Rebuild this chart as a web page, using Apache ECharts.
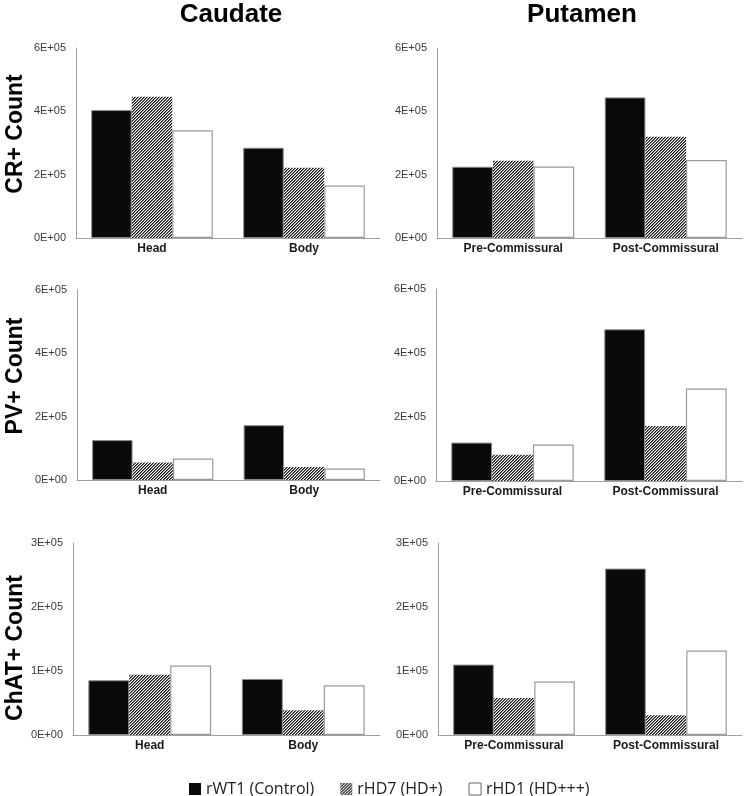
<!DOCTYPE html>
<html>
<head>
<meta charset="utf-8">
<script src="https://cdn.jsdelivr.net/npm/echarts@6/dist/echarts.min.js"></script>
<style>
html,body{margin:0;padding:0;background:#fff;}
#c{width:747px;height:796px;}
</style>
</head>
<body>
<div id="c"></div>
<script>
// ---- Data ----
const seriesNames = ['rWT1 (Control)', 'rHD7 (HD+)', 'rHD1 (HD+++)'];
const caudateCats = ['Head', 'Body'];
const putamenCats = ['Pre-Commissural', 'Post-Commissural'];
const columnTitles = ['Caudate', 'Putamen'];
const rowTitles = ['CR+ Count', 'PV+ Count', 'ChAT+ Count'];

// CR+ counts
const crCaudateWT = [404000, 285000];
const crCaudateHD7 = [446000, 222000];
const crCaudateHD1 = [340000, 166000];
const crPutamenWT = [225000, 444000];
const crPutamenHD7 = [244000, 320000];
const crPutamenHD1 = [226000, 246000];
// PV+ counts
const pvCaudateWT = [126000, 173000];
const pvCaudateHD7 = [55000, 41000];
const pvCaudateHD1 = [68000, 36000];
const pvPutamenWT = [120000, 474000];
const pvPutamenHD7 = [82000, 172000];
const pvPutamenHD1 = [114000, 289000];
// ChAT+ counts
const chatCaudateWT = [85500, 87600];
const chatCaudateHD7 = [94000, 38500];
const chatCaudateHD1 = [108500, 77600];
const chatPutamenWT = [110000, 260000];
const chatPutamenHD7 = [57700, 30700];
const chatPutamenHD1 = [83700, 132000];

// axis ranges / ticks
const crMax = 600000, crInterval = 200000;
const pvMax = 600000, pvInterval = 200000;
const chatMax = 300000, chatInterval = 100000;

// ---- Chart ----
function hatchCanvas() {
  const n = 3;
  const cv = document.createElement('canvas');
  cv.width = n; cv.height = n;
  const ctx = cv.getContext('2d');
  const img = ctx.createImageData(n, n);
  const shades = [25, 120, 255];
  for (let y = 0; y < n; y++) for (let x = 0; x < n; x++) {
    const i = (y * n + x) * 4;
    const v = shades[(x + y) % n];
    img.data[i] = v; img.data[i+1] = v; img.data[i+2] = v; img.data[i+3] = 255;
  }
  ctx.putImageData(img, 0, 0);
  return cv;
}
const hatch = { image: hatchCanvas(), repeat: 'repeat' };

const styles = [
  { color: '#0a0a0a', borderColor: '#8a8a8a', borderWidth: 1 },
  { color: hatch, borderColor: 'transparent', borderWidth: 0 },
  { color: '#ffffff', borderColor: '#9a9a9a', borderWidth: 1.2 }
];

const panels = [
  { grid: { left: 76, top: 48, width: 304, height: 190 }, cats: caudateCats, data: [crCaudateWT, crCaudateHD7, crCaudateHD1], max: crMax, interval: crInterval },
  { grid: { left: 437, top: 48, width: 305, height: 190 }, cats: putamenCats, data: [crPutamenWT, crPutamenHD7, crPutamenHD1], max: crMax, interval: crInterval },
  { grid: { left: 77, top: 290, width: 303, height: 190 }, cats: caudateCats, data: [pvCaudateWT, pvCaudateHD7, pvCaudateHD1], max: pvMax, interval: pvInterval },
  { grid: { left: 436, top: 289, width: 306, height: 192 }, cats: putamenCats, data: [pvPutamenWT, pvPutamenHD7, pvPutamenHD1], max: pvMax, interval: pvInterval },
  { grid: { left: 73, top: 543, width: 307, height: 192 }, cats: caudateCats, data: [chatCaudateWT, chatCaudateHD7, chatCaudateHD1], max: chatMax, interval: chatInterval },
  { grid: { left: 438, top: 543, width: 304, height: 192 }, cats: putamenCats, data: [chatPutamenWT, chatPutamenHD7, chatPutamenHD1], max: chatMax, interval: chatInterval }
];

function sci(v) {
  if (v === 0) return '0E+00';
  const e = Math.floor(Math.log10(Math.abs(v)) + 1e-9);
  const m = Math.round(v / Math.pow(10, e));
  return m + 'E+' + String(e).padStart(2, '0');
}

const grids = [], xAxes = [], yAxes = [], series = [];
panels.forEach((p, i) => {
  grids.push(p.grid);
  xAxes.push({
    type: 'category', gridIndex: i, data: p.cats,
    axisLine: { show: true, lineStyle: { color: '#a0a0a0', width: 1 } },
    axisTick: { show: false },
    axisLabel: { color: '#1a1a1a', fontSize: 12, fontWeight: 'bold', fontFamily: 'Liberation Sans, Arial, sans-serif', margin: 5 }
  });
  yAxes.push({
    type: 'value', gridIndex: i, min: 0, max: p.max, interval: p.interval,
    axisLine: { show: true, lineStyle: { color: '#a0a0a0', width: 1 } },
    axisTick: { show: false },
    splitLine: { show: false },
    axisLabel: { color: '#3a3a3a', fontSize: 11, fontFamily: 'Liberation Sans, Arial, sans-serif', margin: 10, formatter: sci }
  });
  p.data.forEach((d, k) => {
    series.push({
      type: 'bar', name: seriesNames[k], xAxisIndex: i, yAxisIndex: i, data: d,
      barGap: '0%', barCategoryGap: '20%',
      itemStyle: styles[k], emphasis: { disabled: true }, animation: false
    });
  });
});

const graphics = [
  { type: 'text', x: 231, y: 15, style: { text: columnTitles[0], font: 'bold 26px Liberation Sans, Arial, sans-serif', fill: '#000', align: 'center', verticalAlign: 'middle' } },
  { type: 'text', x: 582, y: 15, style: { text: columnTitles[1], font: 'bold 26px Liberation Sans, Arial, sans-serif', fill: '#000', align: 'center', verticalAlign: 'middle' } }
];
const rowCenters = [134, 376, 648];
rowTitles.forEach((t, i) => {
  graphics.push({
    type: 'text', x: 16, y: rowCenters[i], rotation: Math.PI / 2,
    style: { text: t, font: 'bold 23px Liberation Sans, Arial, sans-serif', fill: '#000', align: 'center', verticalAlign: 'middle' }
  });
});

const chart = echarts.init(document.getElementById('c'), null, { renderer: 'canvas' });
chart.setOption({
  animation: false,
  backgroundColor: '#fff',
  grid: grids, xAxis: xAxes, yAxis: yAxes, series: series,
  legend: {
    data: [
      { name: seriesNames[0], itemStyle: { borderWidth: 0 } },
      { name: seriesNames[1] },
      { name: seriesNames[2], itemStyle: { borderColor: '#666', borderWidth: 1 } }
    ],
    left: 184, top: 776, itemWidth: 12, itemHeight: 12, itemGap: 26,
    icon: 'rect',
    textStyle: { fontSize: 16, color: '#222', fontFamily: 'Open Sans, sans-serif' },
    selectedMode: false
  },
  graphic: graphics
});
</script>
</body>
</html>
